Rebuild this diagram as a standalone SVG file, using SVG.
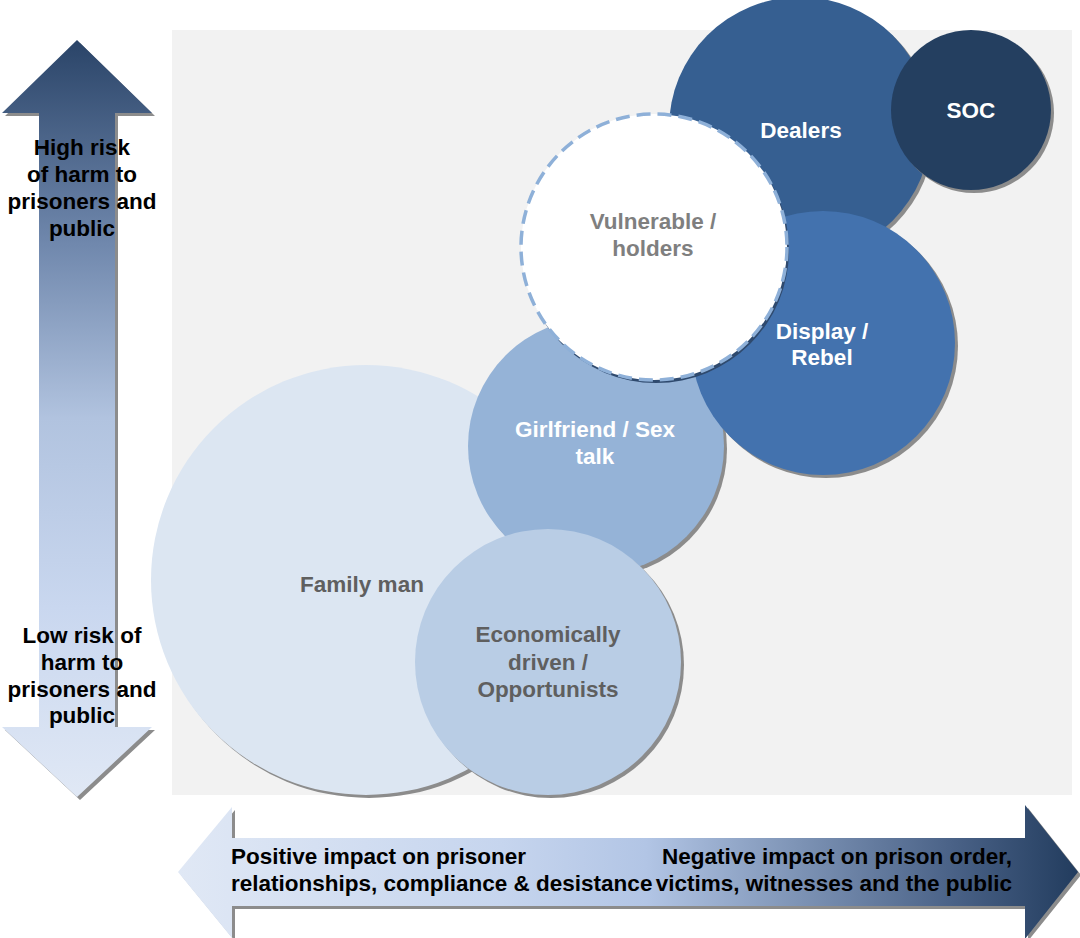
<svg xmlns="http://www.w3.org/2000/svg" width="1080" height="938" viewBox="0 0 1080 938">
<defs>
<linearGradient id="gV" x1="0" y1="40" x2="0" y2="797" gradientUnits="userSpaceOnUse">
<stop offset="0" stop-color="#2a4468"/>
<stop offset="0.27" stop-color="#7088ad"/>
<stop offset="0.5" stop-color="#b1c3df"/>
<stop offset="0.75" stop-color="#c9d7ef"/>
<stop offset="1" stop-color="#e0e8f5"/>
</linearGradient>
<linearGradient id="gH" x1="178" y1="0" x2="1078" y2="0" gradientUnits="userSpaceOnUse">
<stop offset="0" stop-color="#e0e8f5"/>
<stop offset="0.36" stop-color="#c6d5ee"/>
<stop offset="0.52" stop-color="#b2c5e5"/>
<stop offset="0.69" stop-color="#7d93b5"/>
<stop offset="0.86" stop-color="#4a6287"/>
<stop offset="1" stop-color="#223c5e"/>
</linearGradient>
<style>
.t{font-family:"Liberation Sans",Arial,sans-serif;font-weight:bold;font-size:22.5px;text-anchor:middle}
.b{fill:#000}
.w{fill:#fff}
.g{fill:#7f7f7f}
.d{fill:#5f5f5f}
.sh{fill:#8c8c8c}
</style>
</defs>
<rect x="172" y="30" width="900" height="765" fill="#f2f2f2"/>

<g id="axis-vertical">
<path class="sh" d="M80,43 L155,116 L118,116 L118,730 L155,730 L80,800 L5,730 L42,730 L42,116 L5,116 Z"/>
<path fill="url(#gV)" d="M77,40 L152,113 L115,113 L115,727 L152,727 L77,797 L2,727 L39,727 L39,113 L2,113 Z"/>
<text class="t b" x="82" y="155">High risk</text>
<text class="t b" x="82" y="182">of harm to</text>
<text class="t b" x="82" y="209">prisoners and</text>
<text class="t b" x="82" y="236">public</text>
<text class="t b" x="82" y="643">Low risk of</text>
<text class="t b" x="82" y="670">harm to</text>
<text class="t b" x="82" y="697">prisoners and</text>
<text class="t b" x="82" y="723">public</text>
</g>

<g id="axis-horizontal">
<path class="sh" d="M181,875 L235,810 L235,841 L1028,841 L1028,808 L1081,875 L1028,941 L1028,909 L235,909 L235,941 Z"/>
<path fill="url(#gH)" d="M178,872 L232,807 L232,838 L1025,838 L1025,805 L1078,872 L1025,939 L1025,906 L232,906 L232,938 Z"/>
<text class="t b" x="231" y="864" style="text-anchor:start">Positive impact on prisoner</text>
<text class="t b" x="231" y="891" style="text-anchor:start">relationships, compliance &amp; desistance</text>
<text class="t b" x="1012" y="864" style="text-anchor:end">Negative impact on prison order,</text>
<text class="t b" x="1012" y="891" style="text-anchor:end">victims, witnesses and the public</text>
</g>

<g id="family-man">
<circle class="sh" cx="369" cy="583" r="215"/>
<circle cx="366" cy="580" r="215" fill="#dce6f2"/>
<text class="t d" x="362" y="592">Family man</text>
</g>

<g id="girlfriend">
<circle class="sh" cx="599" cy="449" r="128"/>
<circle cx="596" cy="446" r="128" fill="#95b3d7"/>
<text class="t w" x="595" y="437">Girlfriend / Sex</text>
<text class="t w" x="595" y="464">talk</text>
</g>

<g id="economically">
<circle class="sh" cx="551" cy="665" r="133"/>
<circle cx="548" cy="662" r="133" fill="#b9cde5"/>
<text class="t d" x="548" y="642">Economically</text>
<text class="t d" x="548" y="670">driven /</text>
<text class="t d" x="548" y="697">Opportunists</text>
</g>

<g id="dealers">
<circle class="sh" cx="803" cy="131" r="131"/>
<circle cx="800" cy="128" r="131" fill="#365f91"/>
<text class="t w" x="801" y="138">Dealers</text>
</g>

<g id="soc">
<circle class="sh" cx="974" cy="113" r="80"/>
<circle cx="971" cy="110" r="80" fill="#243f60"/>
<text class="t w" x="971" y="118">SOC</text>
</g>

<g id="display-rebel">
<circle class="sh" cx="826" cy="346" r="132"/>
<circle cx="823" cy="343" r="132" fill="#4372ae"/>
<text class="t w" x="822" y="339">Display /</text>
<text class="t w" x="822" y="365">Rebel</text>
</g>

<g id="vulnerable">
<circle cx="656" cy="250" r="133" fill="#2f4a6e"/>
<circle cx="654" cy="247" r="133" fill="#fff" stroke="#8eb0d8" stroke-width="3.5" stroke-dasharray="14 7"/>
<text class="t g" x="653" y="229">Vulnerable /</text>
<text class="t g" x="653" y="256">holders</text>
</g>
</svg>
